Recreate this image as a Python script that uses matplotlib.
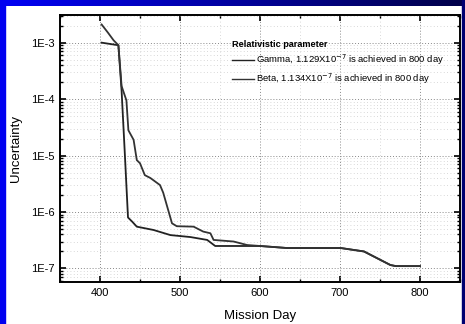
import matplotlib

matplotlib.use("Agg")
import matplotlib.pyplot as plt
import numpy as np
from matplotlib.colors import LinearSegmentedColormap
from matplotlib.lines import Line2D
from matplotlib.patches import Rectangle
from matplotlib.ticker import FuncFormatter, LogLocator, MultipleLocator

plt.rcParams["font.family"] = ["Liberation Sans", "DejaVu Sans"]

# Mission day vs. uncertainty
gamma_day = [402, 423, 427, 431, 435, 440, 446, 467, 488, 513, 534, 544,
             600, 634, 701, 730, 763, 770, 800]
gamma_val = [1.0e-3, 9.0e-4, 1.4e-4, 1.1e-5, 8.0e-7, 6.8e-7, 5.5e-7, 4.8e-7,
             3.9e-7, 3.6e-7, 3.2e-7, 2.5e-7, 2.5e-7, 2.3e-7, 2.3e-7, 2.0e-7,
             1.15e-7, 1.1e-7, 1.1e-7]

beta_day = [402, 410, 417, 423, 427, 433, 435.5, 442, 446, 450, 456, 463,
            475, 479, 490, 496, 517, 529, 538, 542, 567, 584, 600, 634, 701,
            730, 763, 770, 800]
beta_val = [2.1e-3, 1.5e-3, 1.1e-3, 9.0e-4, 1.7e-4, 9.5e-5, 2.8e-5, 1.9e-5,
            8.3e-6, 7.3e-6, 4.5e-6, 4.0e-6, 3.0e-6, 2.2e-6, 6.3e-7, 5.6e-7,
            5.5e-7, 4.5e-7, 4.2e-7, 3.2e-7, 3.0e-7, 2.6e-7, 2.5e-7, 2.3e-7,
            2.3e-7, 2.0e-7, 1.15e-7, 1.1e-7, 1.1e-7]

legend_title = "Relativistic parameter"
gamma_label = r"Gamma, 1.129X10$^{-7}$ is achieved in 800 day"
beta_label = r"Beta, 1.134X10$^{-7}$ is achieved in 800 day"

fig = plt.figure(figsize=(4.65, 3.24), dpi=100)
fig.patch.set_facecolor("white")

# slide border: blue strips on the sides and a gradient band on top
fig.patches.append(Rectangle((0, 0), 5 / 465, 1, transform=fig.transFigure,
                             color="#0000f0", zorder=0))
fig.patches.append(Rectangle((462 / 465, 0), 3 / 465, 1,
                             transform=fig.transFigure, color="#000070",
                             zorder=0))
band = fig.add_axes([0, 1 - 6 / 324, 1, 6 / 324])
cmap = LinearSegmentedColormap.from_list("band", ["#0000f5", "#000048"])
band.imshow(np.linspace(0, 1, 256)[None, :], aspect="auto", cmap=cmap)
band.axis("off")

ax = fig.add_axes([60 / 465, 42 / 324, 400 / 465, 267 / 324])

ax.plot(gamma_day, gamma_val, color="#222222", lw=1.3)
ax.plot(beta_day, beta_val, color="#333333", lw=1.3)

ax.set_yscale("log")
ax.set_xlim(350, 850)
ax.set_ylim(10 ** -7.24, 10 ** -2.51)

ax.xaxis.set_major_locator(MultipleLocator(100))
ax.xaxis.set_minor_locator(MultipleLocator(50))
ax.yaxis.set_major_locator(LogLocator(base=10))
ax.yaxis.set_minor_locator(LogLocator(base=10, subs=np.arange(2, 10)))
ax.yaxis.set_major_formatter(
    FuncFormatter(lambda v, _: f"1E{int(round(np.log10(v)))}"))

ax.tick_params(which="both", direction="in", top=True, right=True,
               labelsize=8, pad=4)
ax.tick_params(which="major", length=4, width=1.2)
ax.tick_params(which="minor", length=2.5, width=1)

ax.grid(True, which="major", ls=(0, (1, 2)), color="#888888", lw=0.7)
ax.grid(True, which="minor", ls=(0, (1, 3)), color="#cccccc", lw=0.6)

for s in ax.spines.values():
    s.set_linewidth(1.4)

ax.set_xlabel("Mission Day", fontsize=9.5, labelpad=9)
ax.set_ylabel("Uncertainty", fontsize=9.5, labelpad=6)

handles = [Line2D([], [], color="#222222", lw=1),
           Line2D([], [], color="#333333", lw=1)]
leg = ax.legend(handles, [gamma_label, beta_label], title=legend_title,
                loc="upper left", bbox_to_anchor=(0.42, 0.922),
                frameon=False, fontsize=6.8, title_fontsize=6.6,
                handlelength=2.4, handletextpad=0.15, labelspacing=0.45,
                alignment="left", borderaxespad=0)
leg.get_title().set_fontweight("bold")

fig.savefig("out.png", dpi=100)
